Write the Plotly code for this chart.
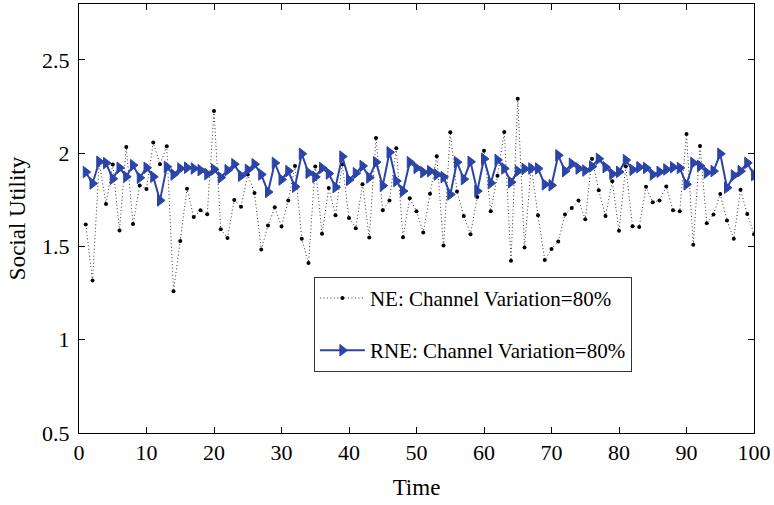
import plotly.graph_objects as go

time = list(range(1, 101))

ne_utility = [
    1.618, 1.317, 1.95, 1.728, 1.94, 1.585, 2.034, 1.62, 1.827, 1.808,
    2.057, 1.941, 2.037, 1.26, 1.53, 1.81, 1.658, 1.694, 1.673, 2.226,
    1.593, 1.546, 1.749, 1.713, 1.886, 1.787, 1.484, 1.612, 1.71, 1.607,
    1.746, 1.932, 1.541, 1.411, 1.929, 1.568, 1.813, 1.667, 1.941, 1.653,
    1.598, 1.833, 1.548, 2.082, 1.694, 1.747, 2.027, 1.55, 1.758, 1.689,
    1.575, 1.783, 1.984, 1.505, 2.112, 1.795, 1.664, 1.566, 1.765, 2.013,
    1.689, 1.879, 2.114, 1.424, 2.292, 1.495, 1.927, 1.667, 1.427, 1.486,
    1.527, 1.671, 1.706, 1.747, 1.646, 1.97, 1.801, 1.664, 1.85, 1.584,
    1.93, 1.609, 1.605, 1.82, 1.737, 1.747, 1.822, 1.694, 1.689, 2.103,
    1.509, 2.039, 1.625, 1.671, 1.781, 1.639, 1.541, 1.804, 1.674, 1.566,
]

rne_utility = [
    1.899, 1.838, 1.954, 1.947, 1.863, 1.922, 1.874, 1.936, 1.868, 1.922,
    1.874, 1.747, 1.927, 1.886, 1.918, 1.922, 1.918, 1.909, 1.888, 1.913,
    1.870, 1.909, 1.941, 1.879, 1.911, 1.941, 1.886, 1.792, 1.948, 1.859,
    1.904, 1.820, 1.997, 1.895, 1.873, 1.921, 1.891, 1.818, 1.982, 1.857,
    1.893, 1.932, 1.870, 1.952, 1.826, 2.005, 1.851, 1.797, 1.952, 1.921,
    1.898, 1.904, 1.886, 1.872, 1.779, 1.952, 1.861, 1.954, 1.797, 1.97,
    1.84, 1.964, 1.918, 1.845, 1.904, 1.916, 1.918, 1.918, 1.833, 1.828,
    1.989, 1.904, 1.943, 1.918, 1.907, 1.929, 1.97, 1.925, 1.889, 1.9,
    1.963, 1.911, 1.925, 1.921, 1.886, 1.9, 1.913, 1.925, 1.921, 1.833,
    1.948, 1.932, 1.896, 1.904, 1.997, 1.815, 1.881, 1.904, 1.948, 1.883,
]

y_ticks = [0.5, 1.0, 1.5, 2.0, 2.5]
y_tick_labels = ["0.5", "1", "1.5", "2", "2.5"]
x_ticks = list(range(0, 101, 10))

FONT = "Liberation Serif, Times New Roman, serif"
BLUE = "#2B44A8"

fig = go.Figure()
fig.add_trace(go.Scatter(
    x=time, y=ne_utility, mode="lines+markers",
    name="NE: Channel Variation=80%", legendgroup="a",
    line=dict(color="#333333", width=1, dash="1px,2.5px"),
    marker=dict(color="black", size=4, symbol="circle"),
))
fig.add_trace(go.Scatter(
    x=time, y=rne_utility, mode="lines+markers",
    name="RNE: Channel Variation=80%", legendgroup="b",
    line=dict(color=BLUE, width=2),
    marker=dict(color=BLUE, size=10, symbol="triangle-right",
                line=dict(color=BLUE, width=1)),
))

axis_common = dict(
    showline=True, linecolor="black", linewidth=1, mirror="ticks",
    ticks="inside", ticklen=6, tickcolor="black", showgrid=False,
    zeroline=False, tickfont=dict(family=FONT, size=22, color="black"),
)

fig.update_layout(
    width=774, height=505,
    margin=dict(l=79, r=17, t=3, b=72),
    paper_bgcolor="white", plot_bgcolor="white",
    font=dict(family=FONT, color="black"),
    xaxis=dict(range=[0, 100], tickvals=x_ticks,
               title=dict(text="Time", font=dict(family=FONT, size=23), standoff=14),
               **axis_common),
    yaxis=dict(range=[0.5, 2.8], tickvals=y_ticks, ticktext=y_tick_labels,
               ticklabelstandoff=4,
               title=dict(text="Social Utility", font=dict(family=FONT, size=23), standoff=10),
               **axis_common),
    legend=dict(x=0.348, y=0.364, xanchor="left", yanchor="top",
                bgcolor="white", bordercolor="#333333", borderwidth=1,
                font=dict(family=FONT, size=21, color="black"),
                itemwidth=45,
                tracegroupgap=22, traceorder="grouped"),
    showlegend=True,
)

fig.write_html("out.html")
